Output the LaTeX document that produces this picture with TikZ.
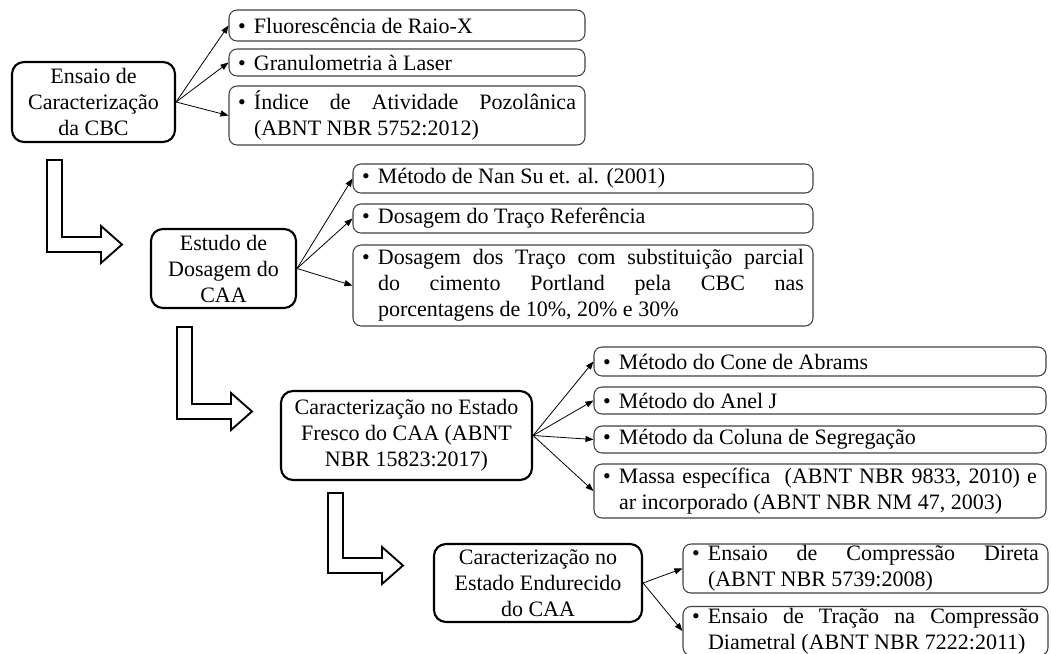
\documentclass[tikz,border=0pt]{standalone}
\usepackage{fontspec}
\setmainfont{Liberation Serif}
\usetikzlibrary{arrows.meta}
\newcommand{\itm}[2]{\makebox[12pt][l]{\textbullet}\parbox[t]{#1}{#2}}
\tikzset{
  stage/.style={draw, line width=1.6pt, rounded corners=9pt, align=center, inner sep=0pt},
  topic/.style={draw=black!75, line width=0.8pt, rounded corners=6pt, inner xsep=6.75pt, inner ysep=0pt},
  link/.style={-{Triangle[length=6pt,width=4.5pt]}, line width=0.6pt},
  hollow/.style={draw, line width=1.4pt, fill=white},
}
\begin{document}
\begin{tikzpicture}[x=0.75pt,y=-0.75pt,font=\fontsize{16.5}{19.5}\selectfont]
\useasboundingbox (0,0) rectangle (1051,654);
% etapa 1
\node[stage, minimum width=122.25pt, minimum height=60pt] (ensaio) at (93.5,102) {Ensaio de\\Caracterização\\da CBC};
\node[topic, minimum height=23.25pt] (fluor) at (407,25.5) {\itm{241.5pt}{Fluorescência de Raio-X}};
\node[topic, minimum height=20.25pt] (granulo) at (407,62.5) {\itm{241.5pt}{Granulometria à Laser}};
\node[topic, minimum height=44.25pt] (indice) at (407,115.5) {\itm{241.5pt}{Índice de Atividade Pozolânica\linebreak (ABNT NBR 5752:2012)}};
% etapa 2
\node[stage, minimum width=108.75pt, minimum height=59.25pt] (dosagem) at (223.5,268.5) {Estudo de\\Dosagem do\\CAA};
\node[topic, minimum height=21.75pt] (nansu) at (583,178.5) {\itm{319.5pt}{Método de Nan Su et. al. (2001)}};
\node[topic, minimum height=21.75pt] (referencia) at (583,218.5) {\itm{319.5pt}{Dosagem do Traço Referência}};
\node[topic, minimum height=60.75pt] (traco) at (583,285.5) {\itm{319.5pt}{Dosagem dos Traço com substituição parcial\linebreak do cimento Portland pela CBC nas\linebreak porcentagens de 10\%, 20\% e 30\%}};
% etapa 3
\node[stage, minimum width=188.25pt, minimum height=66.75pt] (fresco) at (406.5,435.5) {Caracterização no Estado\\Fresco do CAA (ABNT\\NBR 15823:2017)};
\node[topic, minimum height=21.75pt] (cone) at (820,361.5) {\itm{313.5pt}{Método do Cone de Abrams}};
\node[topic, minimum height=20.25pt] (anel) at (820,400.5) {\itm{313.5pt}{Método do Anel J}};
\node[topic, minimum height=20.25pt] (coluna) at (820,439.5) {\itm{313.5pt}{Método da Coluna de Segregação}};
\node[topic, minimum height=40.5pt] (massa) at (820,491) {\itm{313.5pt}{Massa específica~ (ABNT NBR 9833, 2010) e\linebreak ar incorporado (ABNT NBR NM 47, 2003)}};
% etapa 4
\node[stage, minimum width=156pt, minimum height=58.5pt] (endurecido) at (538,583) {Caracterização no\\Estado Endurecido\\do CAA};
\node[topic, minimum height=36.75pt] (compressao) at (865.5,568.5) {\itm{248.25pt}{Ensaio de Compressão Direta\linebreak (ABNT NBR 5739:2008)}};
\node[topic, minimum height=36.75pt] (tracao) at (865.5,631) {\itm{248.25pt}{Ensaio de Tração na Compressão\linebreak Diametral (ABNT NBR 7222:2011)}};
% ligacoes
\foreach \t in {fluor,granulo,indice}
  \draw[link] (ensaio.east) -- (\t.west);
\foreach \t in {nansu,referencia,traco}
  \draw[link] (dosagem.east) -- (\t.west);
\foreach \t in {cone,anel,coluna,massa}
  \draw[link] (fresco.east) -- (\t.west);
\foreach \t in {compressao,tracao}
  \draw[link] (endurecido.east) -- (\t.west);
% setas entre etapas
\foreach \x/\y/\h in {47/160/92,177/327/92,328/493/80}
  \draw[hollow] (\x,\y) -- ++(15,0) -- ++(0,\h-15) -- ++(39,0) -- ++(0,-11) -- ++(21,18.5) -- ++(-21,18.5) -- ++(0,-11) -- ++(-54,0) -- cycle;
\end{tikzpicture}
\end{document}
